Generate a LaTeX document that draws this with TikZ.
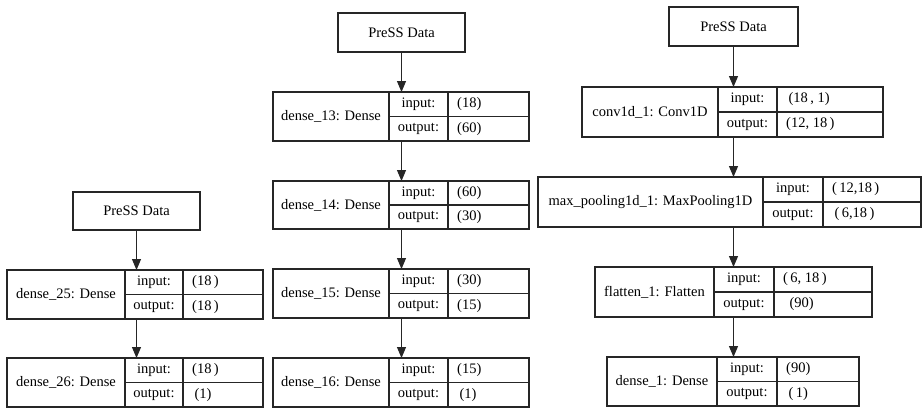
\documentclass[tikz,border=0pt]{standalone}
\usepackage{fontspec}
\setmainfont{Liberation Serif}
\usetikzlibrary{arrows.meta}
\tikzset{
  ln/.style={draw=black!85, line width=1.2pt},
  rec/.style={ln, rectangle, inner sep=0pt, outer sep=0pt},
  txt/.style={inner sep=0pt, font=\fontsize{14.5}{17}\selectfont, text=black},
  arr/.style={draw=black!85, line width=1.2pt, -{Triangle[length=11pt,width=9pt]}}
}
\newcommand\record[8]{%
  \def\rA{#2}\def\rB{#3}\def\rC{#4}\def\rD{#5}\def\rT{#6}\def\rU{#7}%
  \node[rec, minimum width={#5pt-#2pt}, minimum height={#7pt-#6pt}] (#1) at ({(#2+#5)/2},{(#6+#7)/2}) {};
  \draw[ln] (#3,#6) -- (#3,#7);
  \draw[ln] (#4,#6) -- (#4,#7);
  \draw[ln] (#3,{(#6+#7)/2}) -- (#5,{(#6+#7)/2});
  \node[txt] (#1-lab) at ({(#2+#3)/2},{(#6+#7)/2}) {#8};
  \recordio}
\newcommand\recordio[2]{%
  \node[txt] at ({(\rB+\rC)/2},{\rT+(\rU-\rT)/4}) {input:};
  \node[txt] at ({(\rB+\rC)/2},{\rT+3*(\rU-\rT)/4}) {output:};
  \node[txt, anchor=west] at ({\rC+9},{\rT+(\rU-\rT)/4}) {#1};
  \node[txt, anchor=west] at ({\rC+9},{\rT+3*(\rU-\rT)/4}) {#2};}
\begin{document}
\begin{tikzpicture}[x=1pt,y=-1pt]
\useasboundingbox[fill=white] (0,0) rectangle (922,408);
% column 1
\node[rec, minimum width=127pt, minimum height=38pt] (p1) at (136.5,211) {};
\node[txt] at (p1) {PreSS Data};
\record{d25}{7}{125}{183}{263}{270}{319}{dense\_25: Dense}{(18\,)}{(18\,)}
\record{d26}{7}{125}{183}{263}{358}{407}{dense\_26: Dense}{(18\,)}{\,(1)}
\draw[arr] (p1.south) -- (p1.south |- d25.north);
\draw[arr] (d25.south -| p1.south) -- (p1.south |- d26.north);
% column 2
\node[rec, minimum width=127pt, minimum height=39pt] (p2) at (401.5,32.5) {};
\node[txt] at (p2) {PreSS Data};
\record{d13}{273}{389}{448}{529}{92}{141}{dense\_13: Dense}{(18)}{(60)}
\record{d14}{273}{389}{448}{529}{181}{229}{dense\_14: Dense}{(60)}{(30)}
\record{d15}{273}{389}{448}{529}{269}{318}{dense\_15: Dense}{(30)}{(15)}
\record{d16}{273}{389}{448}{529}{358}{407}{dense\_16: Dense}{(15)}{\,(1)}
\draw[arr] (p2.south) -- (p2.south |- d13.north);
\draw[arr] (d13.south -| p2.south) -- (p2.south |- d14.north);
\draw[arr] (d14.south -| p2.south) -- (p2.south |- d15.north);
\draw[arr] (d15.south -| p2.south) -- (p2.south |- d16.north);
% column 3
\node[rec, minimum width=129pt, minimum height=39pt] (p3) at (733.5,26.5) {};
\node[txt] at (p3) {PreSS Data};
\record{c1}{582}{718}{777}{883}{87}{137}{conv1d\_1: Conv1D}{\,(18\,, 1)}{(12, 18\,)}
\record{mp}{538}{763}{823}{921}{177}{227}{max\_pooling1d\_1: MaxPooling1D}{(\,12,18\,)}{\,(\,6,18\,)}
\record{fl}{595}{714}{774}{872}{267}{317}{flatten\_1: Flatten}{(\,6, 18\,)}{\;\,(90)}
\record{dn}{607}{717}{777}{859}{357}{406}{dense\_1: Dense}{(90)}{\,(\,1)}
\draw[arr] (p3.south) -- (p3.south |- c1.north);
\draw[arr] (c1.south -| p3.south) -- (p3.south |- mp.north);
\draw[arr] (mp.south -| p3.south) -- (p3.south |- fl.north);
\draw[arr] (fl.south -| p3.south) -- (p3.south |- dn.north);
\end{tikzpicture}
\end{document}
